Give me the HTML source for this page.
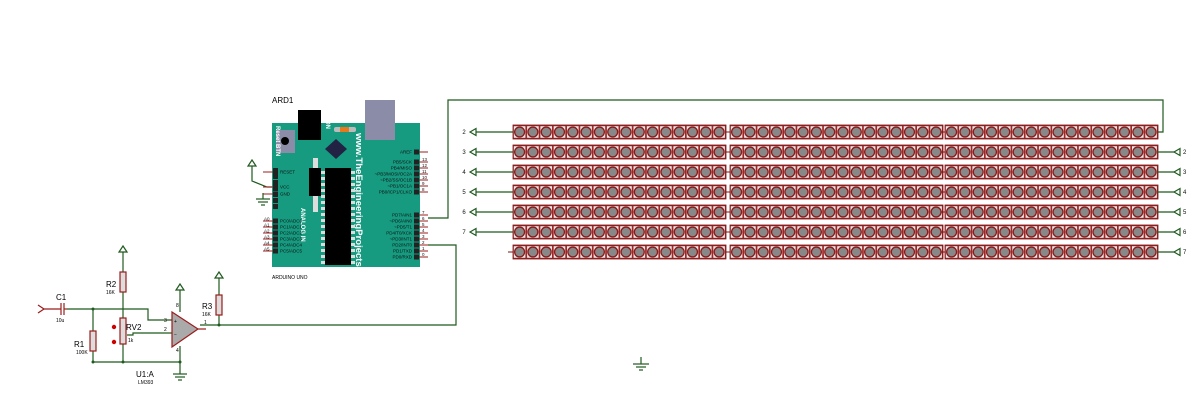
<!DOCTYPE html>
<html><head><meta charset="utf-8"><style>
html,body{margin:0;padding:0;background:#fff;width:1200px;height:405px;overflow:hidden}
svg{display:block;font-family:"Liberation Sans",sans-serif}
</style></head><body>
<svg id="s" width="1200" height="405" viewBox="0 0 1200 405" xmlns="http://www.w3.org/2000/svg">
<g stroke="#1f5a1f" stroke-width="1.2" fill="none">
<polyline points="428,218 448,218 448,100 1163,100 1163,132 1157,132"/>
<polyline points="428,245 456,245 456,325 200,325"/>
<polyline points="252,166 252,181 267,187 272,187"/>
<line x1="263" y1="193" x2="263" y2="199"/>
<line x1="256" y1="199" x2="270" y2="199"/><line x1="258" y1="202" x2="268" y2="202"/><line x1="261" y1="205" x2="265" y2="205"/>
<polyline points="67,309 148,309 148,320 172,320"/>
<line x1="93" y1="309" x2="93" y2="362"/>
<line x1="93" y1="362" x2="180" y2="362"/>
<line x1="123" y1="252" x2="123" y2="362"/>
<polyline points="127,335 133,335 133,333 172,333"/>
<line x1="180" y1="290" x2="180" y2="312"/>
<line x1="180" y1="346" x2="180" y2="374"/>
<line x1="173" y1="374" x2="187" y2="374"/><line x1="175" y1="377" x2="185" y2="377"/><line x1="178" y1="380" x2="182" y2="380"/>
<line x1="219" y1="278" x2="219" y2="325"/>
<line x1="641" y1="357" x2="641" y2="364"/>
<line x1="633" y1="364" x2="649" y2="364"/><line x1="636" y1="367" x2="646" y2="367"/><line x1="639" y1="370" x2="643" y2="370"/>
</g>
<g fill="#fff" stroke="#1f5a1f" stroke-width="1.2">
<path d="M252,160 l-4,6 h8z"/><path d="M123,246 l-4,6 h8z"/><path d="M180,284 l-4,6 h8z"/><path d="M219,272 l-4,6 h8z"/>
</g>
<g fill="#1f5a1f"><circle cx="93" cy="309" r="1.5"/><circle cx="93" cy="362" r="1.5"/><circle cx="123" cy="362" r="1.5"/><circle cx="180" cy="362" r="1.5"/><circle cx="219" cy="325" r="1.5"/></g>
<g stroke="#9b1c1c" stroke-width="1.2" fill="none">
<polyline points="38,305 44,309 38,313"/><line x1="44" y1="309" x2="61" y2="309"/>
<line x1="61" y1="303" x2="61" y2="315"/><line x1="64" y1="303" x2="64" y2="315"/><line x1="64" y1="309" x2="67" y2="309"/>
<line x1="198" y1="329" x2="206" y2="329"/>
</g>
<g fill="#ddd" stroke="#9b1c1c" stroke-width="1.2">
<rect x="90" y="331" width="6" height="20"/><rect x="120" y="272" width="6" height="20"/><rect x="120" y="318" width="6" height="26"/><rect x="216" y="295" width="6" height="20"/>
</g>
<circle cx="114" cy="327" r="2.2" fill="#c00"/><circle cx="114" cy="342" r="2.2" fill="#c00"/>
<path d="M172,312 L198,329 L172,347Z" fill="#aaa" stroke="#9b1c1c" stroke-width="1.2"/>
<g font-size="8" fill="#000"><text x="56" y="300">C1</text><text x="74" y="347">R1</text><text x="106" y="287">R2</text><text x="126" y="330">RV2</text><text x="202" y="309">R3</text><text x="136" y="377">U1:A</text></g>
<g font-size="5" fill="#000"><text x="56" y="322">10u</text><text x="76" y="354">100K</text><text x="106" y="294">16K</text><text x="128" y="342">1k</text><text x="202" y="316">16K</text><text x="138" y="384">LM393</text><text x="164" y="322">3</text><text x="164" y="331">2</text><text x="204" y="324">1</text><text x="176" y="307">8</text><text x="176" y="352">4</text><text x="174" y="323">+</text><text x="174" y="336">−</text></g>
<text x="272" y="103" font-size="8">ARD1</text>
<text x="272" y="279" font-size="5">ARDUINO UNO</text>
<rect x="272" y="123" width="148" height="144" fill="#169b80"/>
<rect x="298" y="110" width="23" height="30" fill="#000"/>
<rect x="365" y="100" width="30" height="40" fill="#8a8ca8"/>
<rect x="276" y="130" width="19" height="23" fill="#8a8ca8"/><circle cx="285" cy="141" r="4" fill="#000"/>
<rect x="334" y="127" width="22" height="5" rx="2" fill="#bbb"/><rect x="340" y="127" width="9" height="5" fill="#e8781c"/>
<path d="M336,139 l11,10 l-11,10 l-11,-10z" fill="#224" />
<rect x="313" y="158" width="5" height="10" fill="#ddd"/><rect x="309" y="168" width="12" height="28" fill="#000"/><rect x="313" y="196" width="5" height="16" fill="#ddd"/>
<rect x="325" y="168" width="26" height="97" fill="#000"/>
<text transform="translate(356,133) rotate(90)" font-size="9.5" font-weight="bold" fill="#fff">www.TheEngineeringProjects.com</text>
<text transform="translate(276,126) rotate(90)" font-size="6" font-weight="bold" fill="#fff">Reset BTN</text>
<text transform="translate(326,120) rotate(90)" font-size="6" font-weight="bold" fill="#fff">ON</text>
<text transform="translate(301,208) rotate(90)" font-size="6" font-weight="bold" fill="#fff">ANALOG IN</text>
<g id="hdr"></g>
<g id="led"></g>
</svg>
<script>
var s=document.getElementById('hdr'),h='';
function t(x,y,txt,sz,anc,fill){return '<text x="'+x+'" y="'+y+'" font-size="'+(sz||4.5)+'" text-anchor="'+(anc||'start')+'" fill="'+(fill||'#111')+'">'+txt+'</text>';}
var R=[['AREF',152,''],['PB5/SCK',162,'13'],['PB4/MISO',168,'12'],['~PB3/MOSI/OC2A',174,'11'],['~PB2/SS/OC1B',180,'10'],['~PB1/OC1A',186,'9'],['PB0/ICP1/CLKO',192,'8'],
['PD7/AIN1',209,'7'],['~PD6/AIN0',215,'6'],['~PD5/T1',221,'5'],['PD4/T0/XCK',227,'4'],['~PD3/INT1',233,'3'],['PD2/INT0',239,'2'],['PD1/TXD',245,'1'],['PD0/RXD',251,'0']];
R.forEach(function(r,i){var y=r[1]+ (i>6?6:0);h+='<rect x="414" y="'+(y-2.5)+'" width="5" height="5" fill="#222"/><line x1="419" y1="'+y+'" x2="428" y2="'+y+'" stroke="#9b1c1c"/>'+t(412,y+1.5,r[0],4.5,'end')+t(422,y-1,r[2],4.5);});
var L=[['RESET',172],['VCC',187],['GND',194]];
L.forEach(function(r){h+='<rect x="273" y="'+(r[1]-2.5)+'" width="5" height="5" fill="#222"/><line x1="263" y1="'+r[1]+'" x2="273" y2="'+r[1]+'" stroke="#9b1c1c"/>'+t(280,r[1]+1.5,r[0]);});
for(var y=168;y<206;y+=6)h+='<rect x="273" y="'+y+'" width="5" height="5" fill="#222"/>';
for(var i=0;i<6;i++){var y=221+i*6;h+='<rect x="273" y="'+(y-2.5)+'" width="5" height="5" fill="#222"/><line x1="263" y1="'+y+'" x2="273" y2="'+y+'" stroke="#9b1c1c"/>'+t(264,y-0.5,'A'+i)+t(280,y+1.5,'PC'+i+'/ADC'+i);}
for(var i=0;i<16;i++){h+='<rect x="321" y="'+(171+i*6)+'" width="4" height="3" fill="#ddd"/><rect x="351" y="'+(171+i*6)+'" width="4" height="3" fill="#ddd"/>';}
s.innerHTML=h;
var g=document.getElementById('led'),o='';
var segs=[513,730,945];
for(var r=0;r<7;r++){var cy=132+r*20;
 segs.forEach(function(x0){o+='<rect x="'+x0+'" y="'+(cy-7)+'" width="213" height="14" fill="#a02626" stroke="#7a1414" stroke-width="0.8"/>';
 for(var k=0;k<16;k++){var cx=x0+6.6+k*13.3;o+='<rect x="'+(cx-5.8)+'" y="'+(cy-5.8)+'" width="11.6" height="11.6" fill="#e8e8e8"/><circle cx="'+cx+'" cy="'+cy+'" r="5.6" fill="#8c1a1a"/><circle cx="'+cx+'" cy="'+cy+'" r="4.3" fill="#888"/>';}});
 o+='<line x1="726" y1="'+cy+'" x2="730" y2="'+cy+'" stroke="#7a1414"/><line x1="941" y1="'+cy+'" x2="945" y2="'+cy+'" stroke="#7a1414"/>';
 if(r<6){o+='<line x1="475" y1="'+cy+'" x2="513" y2="'+cy+'" stroke="#1f5a1f" stroke-width="1.2"/><path d="M470,'+cy+' l6,-3.5 v7z" fill="#fff" stroke="#1f5a1f" stroke-width="1.2"/>'+t(464,cy+2,String(r+2),6,'middle');}
 else o+='<line x1="508" y1="'+cy+'" x2="513" y2="'+cy+'" stroke="#7a1414"/>';
 if(r>0){o+='<line x1="1157" y1="'+cy+'" x2="1174" y2="'+cy+'" stroke="#1f5a1f" stroke-width="1.2"/><path d="M1174,'+cy+' l6,-3.5 v7z" fill="#fff" stroke="#1f5a1f" stroke-width="1.2"/>'+t(1183,cy+2,String(r+1),6);}
}
g.innerHTML=o;
</script>
</body></html>
